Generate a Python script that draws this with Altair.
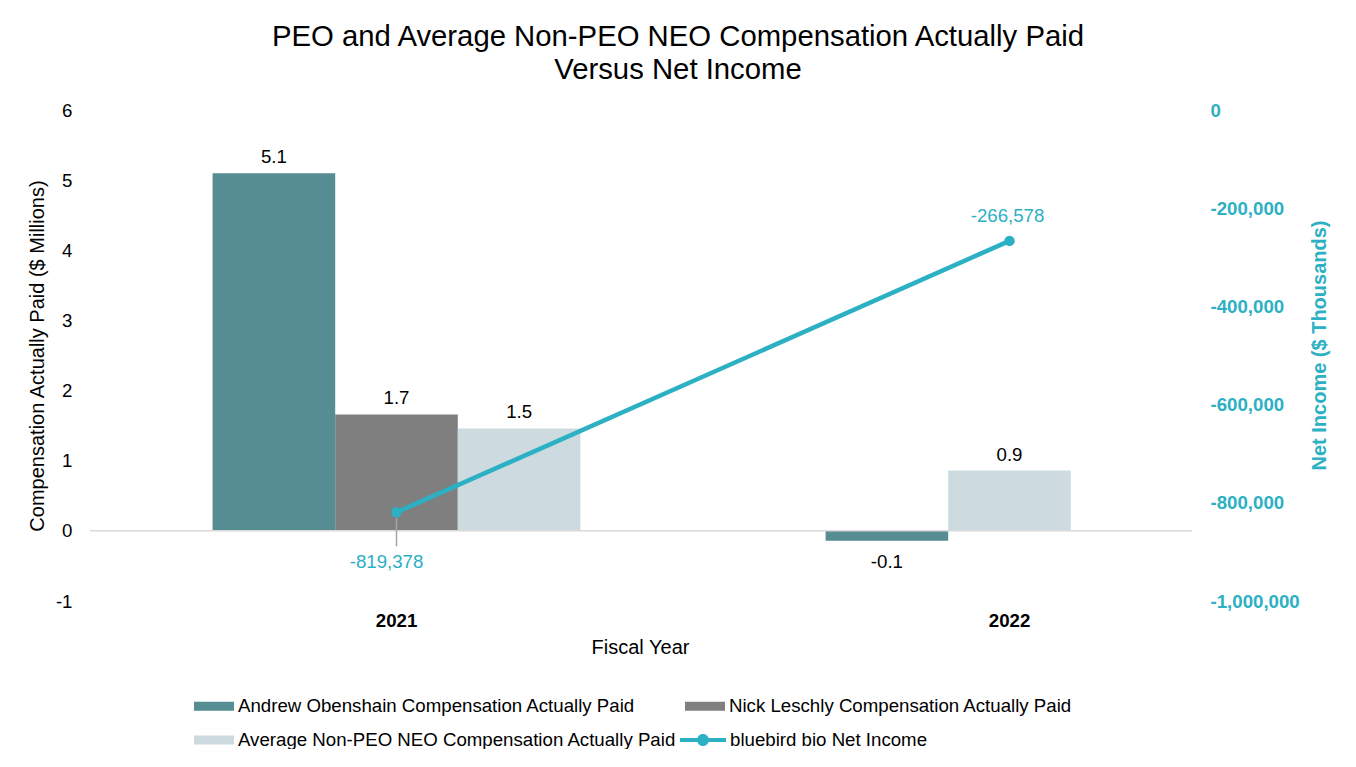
import altair as alt
import pandas as pd

# ---- data ----
years = ["2021", "2022"]
series_names = [
    "Andrew Obenshain Compensation Actually Paid",
    "Nick Leschly Compensation Actually Paid",
    "Average Non-PEO NEO Compensation Actually Paid",
]
andrew = [5.1, -0.14]
nick = [1.66, None]
avg_neo = [1.46, 0.86]
net_income = [-819378, -266578]
line_name = "bluebird bio Net Income"
left_ticks = [-1, 0, 1, 2, 3, 4, 5, 6]
right_ticks = [-1000000, -800000, -600000, -400000, -200000, 0]

# ---- styles ----
bar_colors = ["#568D93", "#7F7F7F", "#CDDBE0"]
TEAL = "#2CB0C3"
FONT = "Liberation Sans"
W, H = 1102, 491
FS = 18.67

rows = []
for name, vals in zip(series_names, [andrew, nick, avg_neo]):
    for yr, v in zip(years, vals):
        if v is not None:
            rows.append({"year": yr, "series": name, "value": v})
bars_df = pd.DataFrame(rows)
bars_df["order"] = bars_df["series"].map({n: i for i, n in enumerate(series_names)})
bars_df = bars_df.sort_values(["year", "order"]).reset_index(drop=True)
bars_df["slot"] = bars_df.groupby("year").cumcount()

line_df = pd.DataFrame({"year": years, "ni": net_income, "lseries": line_name})
zero_df = pd.DataFrame({"value": [0]})

MINUS = "\u2212"

x_enc = alt.X(
    "year:N",
    scale=alt.Scale(domain=years, range=[0, 1226], paddingInner=0.4, paddingOuter=0.2),
    axis=alt.Axis(
        title="Fiscal Year", labelFontWeight="bold", labelFontSize=FS, labelColor="#000",
        labelAngle=0, labelPadding=10, domain=False, ticks=False, grid=False,
        titleFontSize=20, titleFontWeight="normal", titleColor="#000", titlePadding=8,
        titleX=550,
    ),
)
xoff = alt.XOffset("slot:O", scale=alt.Scale(domain=[0, 1, 2], paddingInner=0, paddingOuter=0))

y_left = alt.Y(
    "value:Q",
    scale=alt.Scale(domain=[-1, 6]),
    axis=alt.Axis(
        values=left_ticks, grid=False, domain=False, ticks=False,
        labelExpr=f"replace(format(datum.value, 'd'), '{MINUS}', '-')",
        labelFontSize=FS, labelColor="#000", labelPadding=18,
        title="Compensation Actually Paid ($ Millions)", titleFontSize=20,
        titleFontWeight="normal", titleColor="#000", titlePadding=8,
    ),
)

y_right = alt.Y(
    "ni:Q",
    scale=alt.Scale(domain=[-1000000, 0]),
    axis=alt.Axis(
        orient="right", values=right_ticks, grid=False, domain=False, ticks=False,
        labelExpr=f"replace(format(datum.value, ','), '{MINUS}', '-')",
        labelFontSize=FS, labelFontWeight="bold", labelColor=TEAL, labelPadding=18,
        title="Net Income ($ Thousands)", titleFontSize=20, titleFontWeight="bold",
        titleColor=TEAL, titleAngle=270, titlePadding=30, titleY=235,
    ),
)

bar_legend = alt.Legend(
    title=None, orient="none", legendX=104, legendY=586, columns=2,
    direction="horizontal",
    columnPadding=8, rowPadding=14, symbolType="M-1,-0.45H3V0.45H-1Z",
    symbolSize=400, symbolStrokeWidth=0, labelFontSize=FS, labelColor="#000",
    labelOffset=24, labelLimit=700, padding=0, values=series_names,
)

line_legend = alt.Legend(
    title=None, orient="none", legendX=590, legendY=620,
    symbolType="M-1,-0.2H3.6V0.2H-1Z M1.9,0A0.6,0.6 0 1,1 0.7,0A0.6,0.6 0 1,1 1.9,0Z",
    symbolSize=400, symbolStrokeWidth=0, labelFontSize=FS, labelColor="#000",
    labelOffset=30, labelLimit=700, padding=0,
)

base_bar = alt.Chart(bars_df)
bars = base_bar.mark_bar().encode(
    x=x_enc, xOffset=xoff, y=y_left,
    color=alt.Color("series:N", sort=series_names,
                    scale=alt.Scale(domain=series_names, range=bar_colors),
                    legend=bar_legend),
)
lbl_expr = f"replace(format(datum.value, '.1f'), '{MINUS}', '-')"
pos_labels = base_bar.transform_filter("datum.value >= 0").transform_calculate(
    lbl=lbl_expr
).mark_text(dy=-16, fontSize=FS, color="#000").encode(
    x=x_enc, xOffset=xoff, y=y_left, text="lbl:N"
)
neg_labels = base_bar.transform_filter("datum.value < 0").transform_calculate(
    lbl=lbl_expr
).mark_text(dy=21, fontSize=FS, color="#000").encode(
    x=x_enc, xOffset=xoff, y=y_left, text="lbl:N"
)
zero_rule = alt.Chart(zero_df).mark_rule(color="#D9D9D9", strokeWidth=1.5).encode(
    y=y_left, x=alt.value(0), x2=alt.value(W),
)

left = alt.layer(bars, zero_rule, pos_labels, neg_labels)

base_line = alt.Chart(line_df)
ni_lbl = f"replace(format(datum.ni, ','), '{MINUS}', '-')"
line = base_line.mark_line(color=TEAL, strokeWidth=4.5).encode(x=x_enc, y=y_right)
pts = base_line.mark_circle(size=110, opacity=1).encode(
    x=x_enc, y=y_right,
    color=alt.Color("lseries:N", scale=alt.Scale(domain=[line_name], range=[TEAL]),
                    legend=line_legend),
)
leader = base_line.transform_filter(alt.datum.year == years[0]).mark_rule(
    color="#A6A6A6", strokeWidth=1.5, yOffset=6, y2Offset=34
).encode(x=x_enc, y=y_right, y2="ni:Q")
lab_below = base_line.transform_filter(alt.datum.year == years[0]).transform_calculate(
    lbl=ni_lbl
).mark_text(dy=50, dx=-10, fontSize=FS, color=TEAL).encode(x=x_enc, y=y_right, text="lbl:N")
lab_above = base_line.transform_filter(alt.datum.year != years[0]).transform_calculate(
    lbl=ni_lbl
).mark_text(dy=-25, dx=-2, fontSize=FS, color=TEAL).encode(x=x_enc, y=y_right, text="lbl:N")

right = alt.layer(line, leader, pts, lab_below, lab_above)

chart = alt.layer(left, right).resolve_scale(
    y="independent", color="independent"
).properties(
    width=W, height=H,
    title=alt.TitleParams(
        text=["PEO and Average Non-PEO NEO Compensation Actually Paid", "Versus Net Income"],
        fontSize=29.3, fontWeight="normal", color="#000", lineHeight=33,
        anchor="middle", dx=37, dy=40, offset=27, baseline="bottom", font=FONT,
    ),
    padding={"left": 82, "top": 102, "right": 150, "bottom": 148},
    autosize=alt.AutoSizeParams(type="none"),
    background="white",
).configure(font=FONT).configure_view(stroke=None)

chart.save("out.html", embed_options={"renderer": "svg", "actions": False})
